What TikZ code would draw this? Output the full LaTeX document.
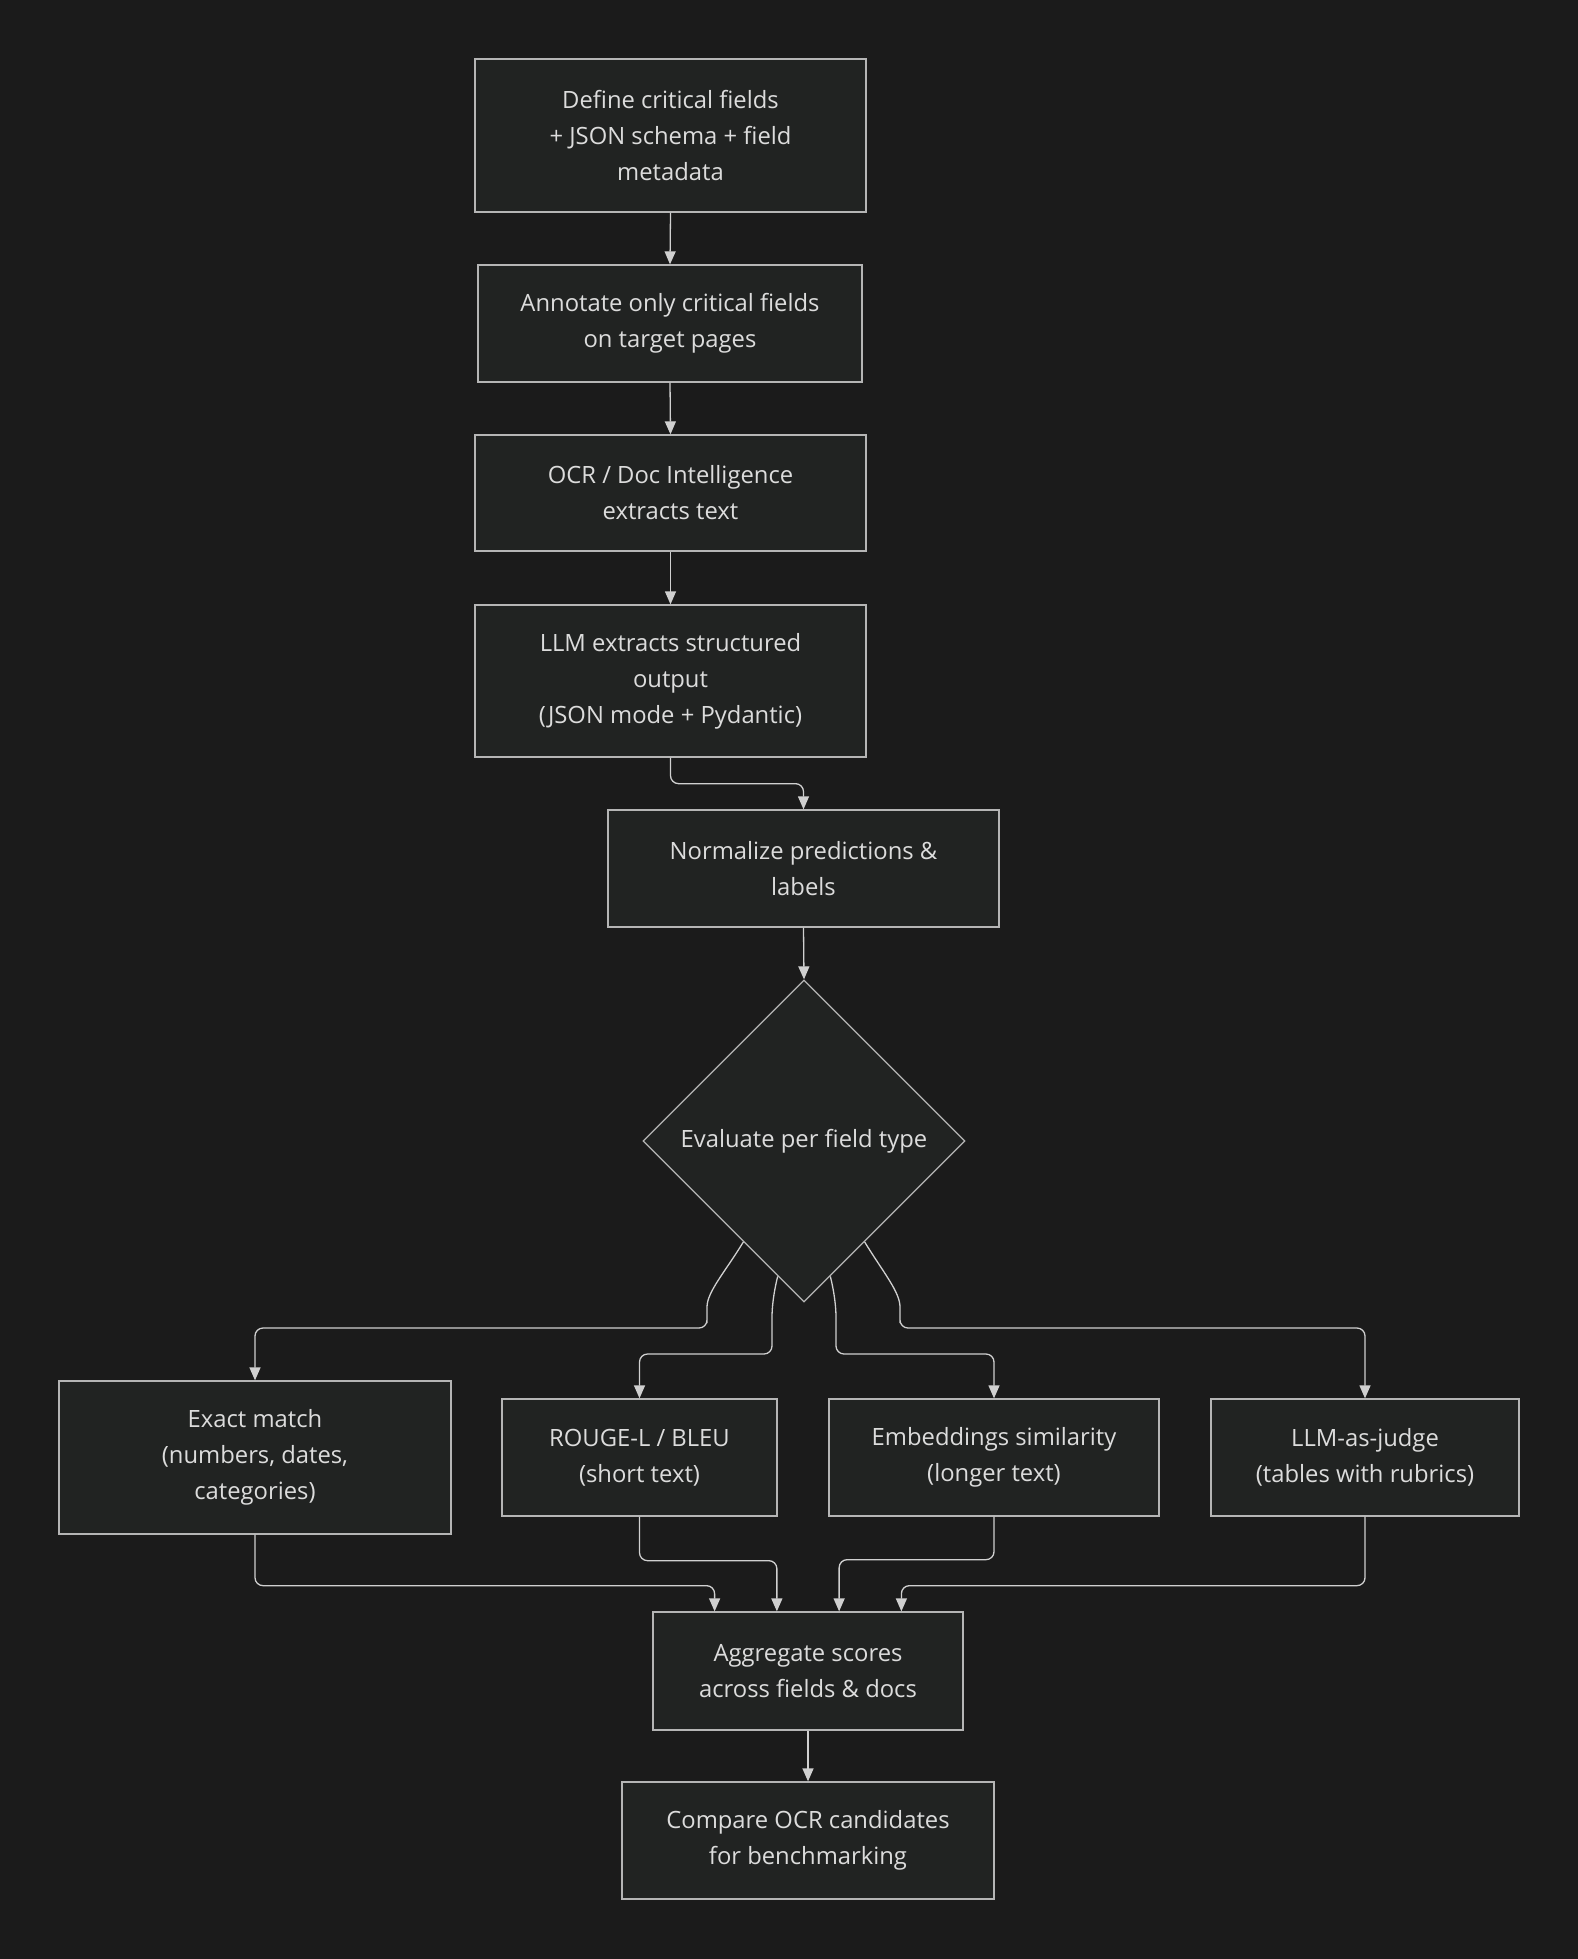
\documentclass[tikz,border=0pt]{standalone}
\usepackage{fontspec}
\setmainfont{Open Sans}
\usetikzlibrary{shapes.geometric,arrows.meta,calc}
\definecolor{bgc}{HTML}{1B1B1B}
\definecolor{boxfill}{HTML}{212322}
\definecolor{boxline}{HTML}{B5B5B5}
\definecolor{txt}{HTML}{DCDCDC}
\definecolor{lnc}{HTML}{D0D0D0}
\tikzset{
  box/.style={draw=boxline, fill=boxfill, line width=1.3pt, rectangle, inner sep=0pt,
    text=txt, align=center, font=\fontsize{23.8}{36}\selectfont},
  dec/.style={draw=boxline, fill=boxfill, line width=1.3pt, diamond, aspect=1, inner sep=0pt,
    minimum size=322pt, text=txt, align=center, font=\fontsize{23.8}{36}\selectfont},
  conn/.style={draw=lnc, line width=1.3pt, rounded corners=8pt,
    -{Triangle[length=13pt,width=11pt]}},
}
\begin{document}
\begin{tikzpicture}[x=1pt,y=-1pt]
\fill[bgc] (0,0) rectangle (1578,1959);
\useasboundingbox (0,0) rectangle (1578,1959);

\node[box, minimum width=391pt, minimum height=153pt] (b1) at (670.5,135.5)
  {Define critical fields\\+ JSON schema + field\\metadata};
\node[box, minimum width=384pt, minimum height=117pt] (b2) at (670,323.5)
  {Annotate only critical fields\\on target pages};
\node[box, minimum width=391pt, minimum height=116pt] (b3) at (670.5,493)
  {OCR / Doc Intelligence\\extracts text};
\node[box, minimum width=391pt, minimum height=152pt] (b4) at (670.5,681)
  {LLM extracts structured\\output\\(JSON mode + Pydantic)};
\node[box, minimum width=391pt, minimum height=117pt] (b5) at (803.5,868.5)
  {Normalize predictions \&\\labels};
\node[dec] (dia) at (804,1141) {Evaluate per field type};

\node[box, minimum width=392pt, minimum height=153pt] (ex) at (255,1457.5)
  {Exact match\\(numbers, dates,\\categories)};
\node[box, minimum width=275pt, minimum height=117pt] (rg) at (639.5,1457.5)
  {ROUGE-L / BLEU\\(short text)};
\node[box, minimum width=330pt, minimum height=117pt] (em) at (994,1457.5)
  {Embeddings similarity\\(longer text)};
\node[box, minimum width=308pt, minimum height=117pt] (lj) at (1365,1457.5)
  {LLM-as-judge\\(tables with rubrics)};
\node[box, minimum width=310pt, minimum height=118pt] (ag) at (808,1671)
  {Aggregate scores\\across fields \& docs};
\node[box, minimum width=372pt, minimum height=117pt] (cm) at (808,1840.5)
  {Compare OCR candidates\\for benchmarking};

\draw[conn] (b1.south) -- (b2.north);
\draw[conn] (b2.south) -- (b3.north);
\draw[conn] (b3.south) -- (b4.north);
\draw[conn] (b4.south) -- ++(0,26) -| (b5.north);
\draw[conn] (b5.south) -- (dia.north);

\draw[conn] (dia.-121) .. controls (725,1272) and (707,1292) .. (707,1315) -- (707,1328) -- (255,1328) -- (ex.north);
\draw[conn] (dia.-101) .. controls (773,1295) and (772,1310) .. (772,1325) -- (772,1354) -- (639.5,1354) -- (rg.north);
\draw[conn] (dia.-79) .. controls (835,1295) and (836,1310) .. (836,1325) -- (836,1354) -- (994,1354) -- (em.north);
\draw[conn] (dia.-59) .. controls (883,1272) and (900,1292) .. (900,1315) -- (900,1328) -- (1365,1328) -- (lj.north);

\draw[conn] (ex.south) -- ++(0,51) -| ($(ag.north west)!0.2!(ag.north east)$);
\draw[conn] (rg.south) -- ++(0,44) -| ($(ag.north west)!0.4!(ag.north east)$);
\draw[conn] (em.south) -- ++(0,43) -| ($(ag.north west)!0.6!(ag.north east)$);
\draw[conn] (lj.south) -- ++(0,69) -| ($(ag.north west)!0.8!(ag.north east)$);

\draw[conn] (ag.south) -- (cm.north);
\end{tikzpicture}
\end{document}
